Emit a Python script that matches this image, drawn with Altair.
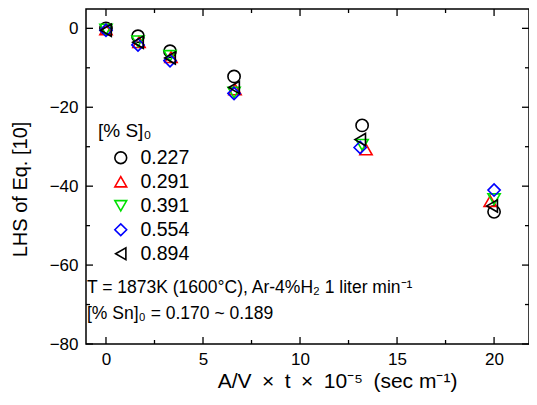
import altair as alt
import pandas as pd

series = ['0.227', '0.291', '0.391', '0.554', '0.894']
shapes = ['circle', 'triangle-up', 'triangle-down', 'diamond', 'triangle-left']
colors = ['black', '#ff0000', '#00e000', '#0000ff', 'black']

x_vals = {
    '0.227': [0.0, 1.65, 3.3, 6.6, 13.2, 20.0],
    '0.291': [0.0, 1.7, 3.35, 6.65, 13.4, 19.8],
    '0.391': [0.0, 1.65, 3.3, 6.6, 13.2, 20.0],
    '0.554': [0.0, 1.65, 3.3, 6.6, 13.1, 20.0],
    '0.894': [0.0, 1.65, 3.3, 6.6, 13.1, 19.9],
}
y_vals = {
    '0.227': [0.0, -2.0, -5.8, -12.2, -24.6, -46.5],
    '0.291': [-0.3, -3.5, -7.3, -15.5, -30.7, -43.8],
    '0.391': [-0.3, -3.3, -7.0, -16.3, -29.5, -43.3],
    '0.554': [-0.5, -4.2, -8.2, -16.5, -30.2, -41.0],
    '0.894': [-0.5, -3.5, -7.5, -15.0, -28.2, -45.0],
}

x_major = [0, 5, 10, 15, 20]
x_minor = [2.5, 7.5, 12.5, 17.5]
y_major = [0, -20, -40, -60, -80]
y_minor = [-10, -30, -50, -70]

rows = []
for s in series:
    for xv, yv in zip(x_vals[s], y_vals[s]):
        rows.append({'S': s, 'x': xv, 'y': yv})
df = pd.DataFrame(rows)

W, H = 443, 335
FONT = 'Liberation Sans'

xs = alt.Scale(domain=[-1.03, 21.8], nice=False, zero=False)
ys = alt.Scale(domain=[-80, 4.9], nice=False, zero=False)

leg = alt.Legend(title='[% S]₀', orient='none', legendX=12, legendY=113,
                 titleFont=FONT, titleFontSize=19, titleFontWeight='normal',
                 titleColor='black', labelFont=FONT, labelFontSize=19.5,
                 labelColor='black', symbolSize=140, symbolStrokeWidth=1.6,
                 symbolFillColor='transparent',
                 rowPadding=3, titlePadding=7, labelOffset=10, symbolOffset=13)

points = alt.Chart(df).mark_point(filled=False, size=150, strokeWidth=1.6, opacity=1).encode(
    x=alt.X('x:Q', scale=xs,
            axis=alt.Axis(values=x_major, ticks=False, domain=False, grid=False,
                          labelFontSize=17, labelFont=FONT, labelColor='black', labelPadding=7,
                          title='A/V\u2002×\u2002t\u2002×\u200210⁻⁵\u2002(sec m⁻¹)',
                          titleFontSize=21, titleFont=FONT, titleX=251, titleAlign='center',
                          titleFontWeight='normal', titleColor='black', titlePadding=3)),
    y=alt.Y('y:Q', scale=ys,
            axis=alt.Axis(values=y_major, ticks=False, domain=False, grid=False,
                          labelFontSize=17, labelFont=FONT, labelColor='black', labelPadding=8,
                          title='LHS of Eq. [10]', titleFontSize=20, titleFont=FONT,
                          titleY=180, titleAlign='center',
                          titleFontWeight='normal', titleColor='black', titlePadding=19)),
    shape=alt.Shape('S:N', scale=alt.Scale(domain=series, range=shapes), legend=leg),
    color=alt.Color('S:N', scale=alt.Scale(domain=series, range=colors), legend=leg),
)

def tick_rules(vals, axis, length):
    d = pd.DataFrame({'v': vals})
    layers = []
    if axis == 'x':
        layers.append(alt.Chart(d).mark_rule(color='black', strokeWidth=1.3).encode(
            x=alt.X('v:Q', scale=xs), y=alt.value(H), y2=alt.value(H - length)))
        layers.append(alt.Chart(d).mark_rule(color='black', strokeWidth=1.3).encode(
            x=alt.X('v:Q', scale=xs), y=alt.value(0), y2=alt.value(length)))
    else:
        layers.append(alt.Chart(d).mark_rule(color='black', strokeWidth=1.3).encode(
            y=alt.Y('v:Q', scale=ys), x=alt.value(0), x2=alt.value(length)))
        layers.append(alt.Chart(d).mark_rule(color='black', strokeWidth=1.3).encode(
            y=alt.Y('v:Q', scale=ys), x=alt.value(W), x2=alt.value(W - length)))
    return layers

ticks = (tick_rules(x_major, 'x', 7) + tick_rules(x_minor, 'x', 4)
         + tick_rules(y_major, 'y', 7) + tick_rules(y_minor, 'y', 4))

ann = pd.DataFrame({'t': ['T = 1873K (1600°C), Ar-4%H₂ 1 liter min⁻¹', '[% Sn]₀ = 0.170 ~ 0.189'],
                    'py': [279, 305]})
texts = alt.Chart(ann).mark_text(align='left', baseline='middle', font=FONT, fontSize=17.5,
                                 color='black').encode(
    x=alt.value(1), y=alt.Y('py:Q', scale=None), text='t:N')

chart = alt.layer(*ticks, texts, points).properties(
    width=W, height=H,
    autosize=alt.AutoSizeParams(type='none'),
    padding={'left': 78, 'top': 1, 'right': 0, 'bottom': 52},
).configure_view(stroke='black', strokeWidth=1.5)

chart.save('out.html', embed_options={'renderer': 'svg', 'actions': False})
